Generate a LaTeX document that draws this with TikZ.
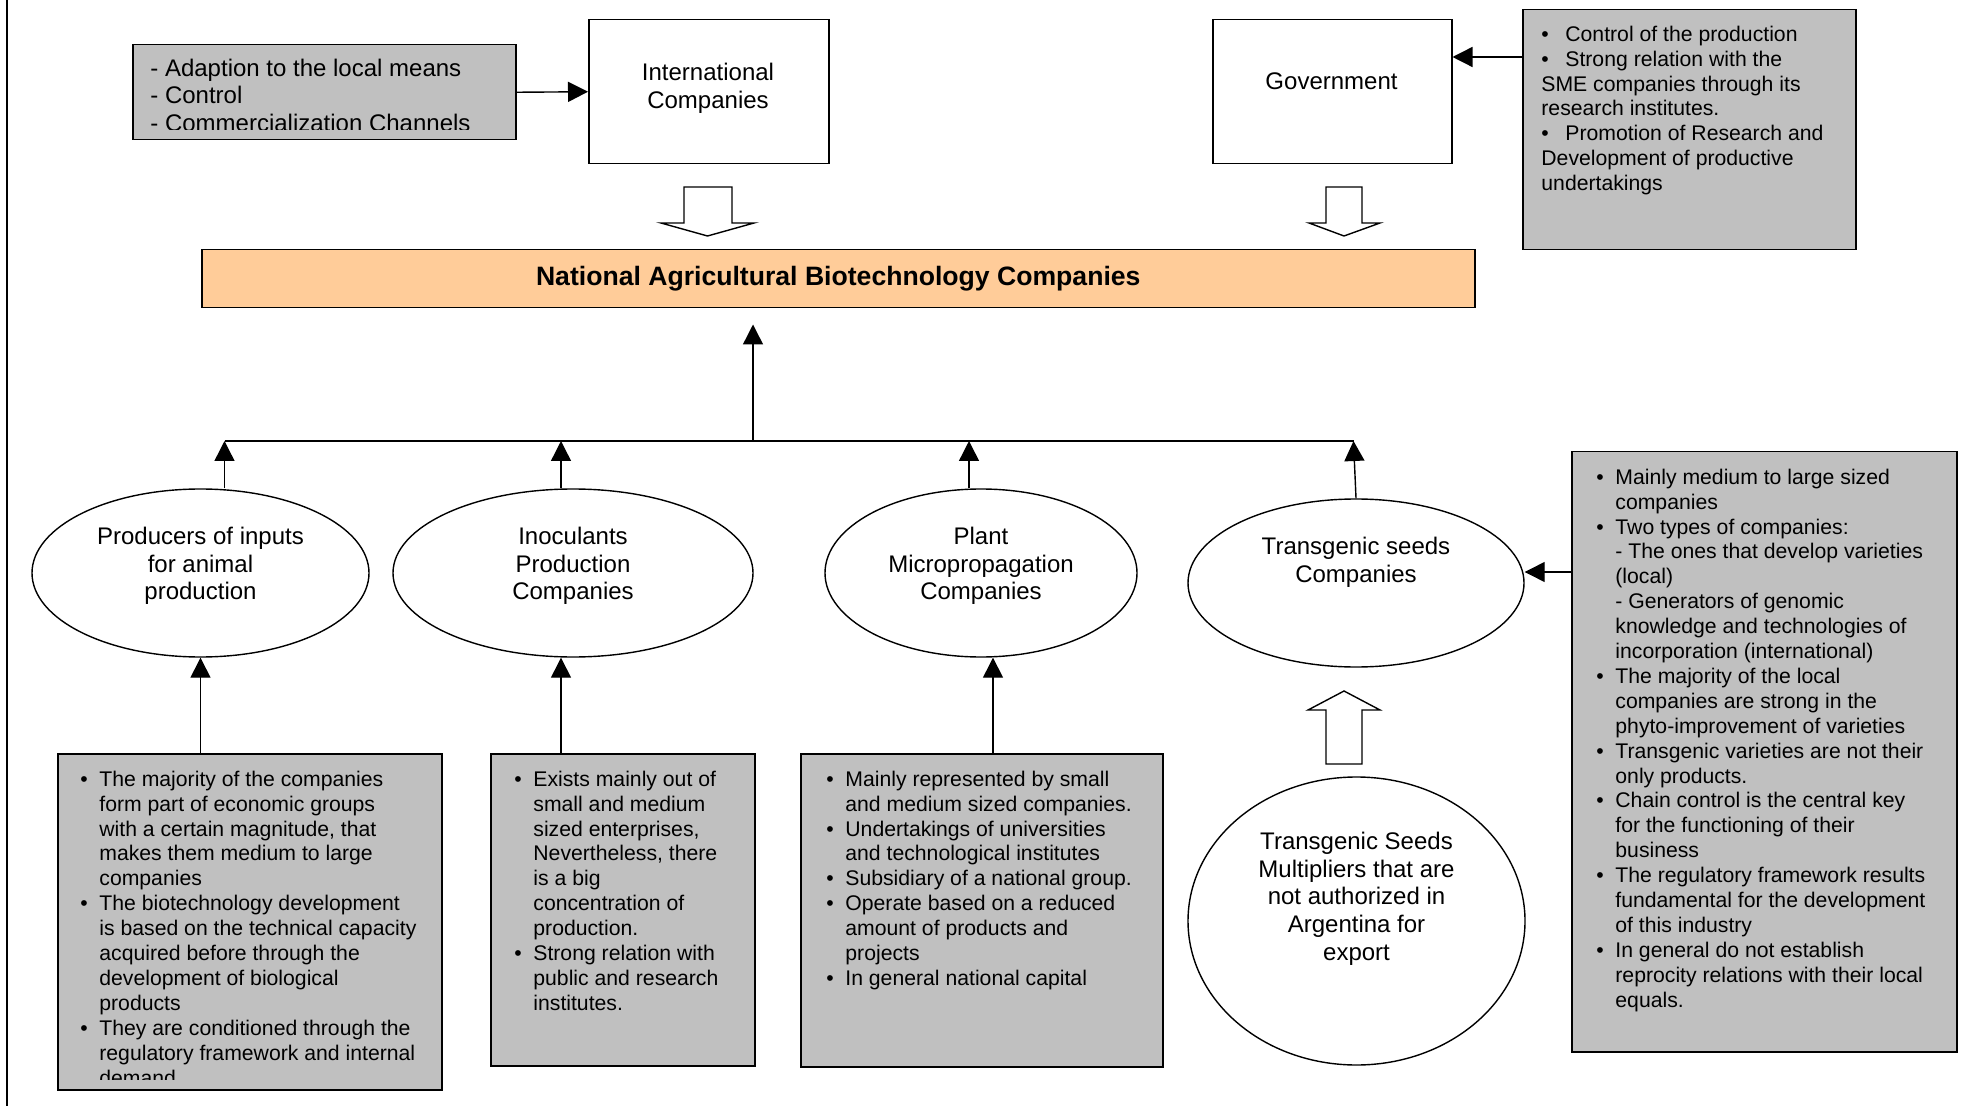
\documentclass[tikz,border=0pt]{standalone}
\usepackage{fontspec}
\setmainfont{Liberation Sans}
\usetikzlibrary{arrows.meta,shapes.geometric}

\definecolor{boxgray}{HTML}{C0C0C0}
\definecolor{peach}{HTML}{FFCC99}

\newcommand\bodyfont{\fontsize{10.6pt}{12.45pt}\selectfont}
\newcommand\ovalfont{\fontsize{12pt}{13.8pt}\selectfont}
\newcommand\itm{\makebox[9.5pt][l]{\textbullet}}
\newcommand\cnt{\hspace*{9.5pt}}
\newcommand\itmw{\makebox[12pt][l]{\textbullet}}

\tikzset{
  boxframe/.style={draw, line width=0.75pt, inner sep=0pt, anchor=north west},
  graybox/.style={boxframe, fill=boxgray},
  oval/.style={ellipse, draw, line width=0.7pt, inner sep=0pt, fill=white},
  arr/.style={line width=0.7pt, -{Triangle[width=10pt,length=10pt]}},
  bullettext/.style={font=\bodyfont, align=left, anchor=north west, inner sep=0pt,
    execute at begin node=\strut},
  ovaltext/.style={font=\ovalfont, align=center, anchor=north, inner sep=0pt,
    execute at begin node=\strut},
  hollow/.style={draw, fill=white, line width=0.7pt, line join=miter},
}

\begin{document}
\begin{tikzpicture}[x=0.5pt, y=-0.5pt]
\useasboundingbox (0,0) rectangle (1979,1106);

% page rule on the left
\draw[line width=0.9pt] (7,0) -- (7,1106);

% ---------- top row ----------
\node[graybox, minimum width=191.5pt, minimum height=47.5pt] (means) at (132,44) {};
\begin{scope}
  \clip (means.north west) rectangle ([yshift=5.5pt]means.south east);
  \node[font=\fontsize{12pt}{13.75pt}\selectfont, align=left, anchor=north west,
        inner sep=0pt, execute at begin node=\strut] (meanstext) at (150,58.5)
    {- Adaption to the local means\\- Control\\- Commercialization Channels};
\end{scope}

\node[boxframe, fill=white, minimum width=120pt, minimum height=72pt] (intl) at (588,19) {};
\node[ovaltext] (intltext) at (708,63) {International\\Companies};

\node[boxframe, fill=white, minimum width=119.5pt, minimum height=72pt] (gov) at (1212,19) {};
\node[ovaltext] (govtext) at (1331.5,70) {Government};

\node[graybox, minimum width=166.5pt, minimum height=120pt] (govrole) at (1522,9) {};
\node[bullettext] (govroletext) at (1541,25.5) {%
  \itmw Control of the production\\
  \itmw Strong relation with the\\
  SME companies through its\\
  research institutes.\\
  \itmw Promotion of Research and\\
  Development of productive\\
  undertakings};

\draw[arr] (means.east) -- (intl.west);
\draw[arr] ([yshift=-24pt]govrole.north west) -- ([yshift=-19pt]gov.north east);

% hollow block arrows into the national companies
\draw[hollow] (684,187) -- (732,187) -- (732,223) -- (754,223) -- (707.5,236)
  -- (661,223) -- (684,223) -- cycle;
\draw[hollow] (1326,187) -- (1362,187) -- (1362,223) -- (1380,223) -- (1344,236)
  -- (1309,223) -- (1326,223) -- cycle;

% ---------- central box ----------
\node[boxframe, fill=peach, minimum width=636.5pt, minimum height=29pt,
      font=\bfseries\fontsize{13.3pt}{15pt}\selectfont] (nabc) at (201,249)
  {National Agricultural Biotechnology Companies};

% ---------- the four kinds of companies ----------
\node[oval, minimum width=168.5pt, minimum height=84pt] (e1) at (200.5,573) {};
\node[ovaltext] (e1text) at (200.5,527) {Producers of inputs\\for animal\\production};

\node[oval, minimum width=180pt, minimum height=84pt] (e2) at (573,573) {};
\node[ovaltext] (e2text) at (573,527) {Inoculants\\Production\\Companies};

\node[oval, minimum width=156pt, minimum height=84pt] (e3) at (981,573) {};
\node[ovaltext] (e3text) at (981,527) {Plant\\Micropropagation\\Companies};

\node[oval, minimum width=168pt, minimum height=84pt] (e4) at (1356,583) {};
\node[ovaltext] (e4text) at (1356,537) {Transgenic seeds\\Companies};

% bus joining the four kinds
\coordinate (b1) at (224.5,441);
\coordinate (b2) at (561,441);
\coordinate (b3) at (969,441);
\coordinate (b4) at (1353.5,441);
\coordinate (bm) at (753,441);
\draw[line width=0.7pt] (b1) -- (b4);
\draw[arr] (bm) -- ([yshift=-8pt]nabc.south -| bm);
\draw[arr] (e1.north -| b1) -- (b1);
\draw[arr] (e2.north -| b2) -- (b2);
\draw[arr] (e3.north -| b3) -- (b3);
\draw[arr] (e4.north) -- (b4);

% ---------- multipliers ----------
\node[oval, minimum width=168.5pt, minimum height=144pt] (e5) at (1356.5,921) {};
\node[ovaltext] (e5text) at (1356.5,832)
  {Transgenic Seeds\\Multipliers that are\\not authorized in\\Argentina for\\export};
\draw[hollow] (1326,764) -- (1362,764) -- (1362,710) -- (1380,710) -- (1344,691)
  -- (1308,710) -- (1326,710) -- cycle;

% ---------- characteristics ----------
\node[graybox, minimum width=192pt, minimum height=168pt] (c1) at (57,753) {};
\begin{scope}
  \clip (c1.north west) rectangle ([yshift=5.5pt]c1.south east);
  \node[bullettext] (c1text) at (80,770.5) {%
    \itm The majority of the companies\\
    \cnt form part of economic groups\\
    \cnt with a certain magnitude, that\\
    \cnt makes them medium to large\\
    \cnt companies\\
    \itm The biotechnology development\\
    \cnt is based on the technical capacity\\
    \cnt acquired before through the\\
    \cnt development of biological\\
    \cnt products\\
    \itm They are conditioned through the\\
    \cnt regulatory framework and internal\\
    \cnt demand};
\end{scope}

\node[graybox, minimum width=132pt, minimum height=156pt] (c2) at (490,753) {};
\node[bullettext] (c2text) at (514,770.5) {%
  \itm Exists mainly out of\\
  \cnt small and medium\\
  \cnt sized enterprises,\\
  \cnt Nevertheless, there\\
  \cnt is a big\\
  \cnt concentration of\\
  \cnt production.\\
  \itm Strong relation with\\
  \cnt public and research\\
  \cnt institutes.};

\node[graybox, minimum width=181pt, minimum height=156.5pt] (c3) at (800,753) {};
\node[bullettext] (c3text) at (826,770.5) {%
  \itm Mainly represented by small\\
  \cnt and medium sized companies.\\
  \itm Undertakings of universities\\
  \cnt and technological institutes\\
  \itm Subsidiary of a national group.\\
  \itm Operate based on a reduced\\
  \cnt amount of products and\\
  \cnt projects\\
  \itm In general national capital};

\node[graybox, minimum width=192.5pt, minimum height=300pt] (c4) at (1571,451) {};
\node[bullettext] (c4text) at (1596,468.5) {%
  \itm Mainly medium to large sized\\
  \cnt companies\\
  \itm Two types of companies:\\
  \cnt - The ones that develop varieties\\
  \cnt (local)\\
  \cnt - Generators of genomic\\
  \cnt knowledge and technologies of\\
  \cnt incorporation (international)\\
  \itm The majority of the local\\
  \cnt companies are strong in the\\
  \cnt phyto-improvement of varieties\\
  \itm Transgenic varieties are not their\\
  \cnt only products.\\
  \itm Chain control is the central key\\
  \cnt for the functioning of their\\
  \cnt business\\
  \itm The regulatory framework results\\
  \cnt fundamental for the development\\
  \cnt of this industry\\
  \itm In general do not establish\\
  \cnt reprocity relations with their local\\
  \cnt equals.};

% attachment points on the ovals
\coordinate (e3in) at ([xshift=6pt]e3.south);
\coordinate (e4in) at ([yshift=5.5pt]e4.east);

\draw[arr] (c1.north -| e1.south) -- (e1.south);
\draw[arr] (c2.north -| b2) -- (e2.south -| b2);
\draw[arr] (c3.north -| e3in) -- (e3in);
\draw[arr] (c4.west |- e4in) -- (e4in);

\end{tikzpicture}
\end{document}
